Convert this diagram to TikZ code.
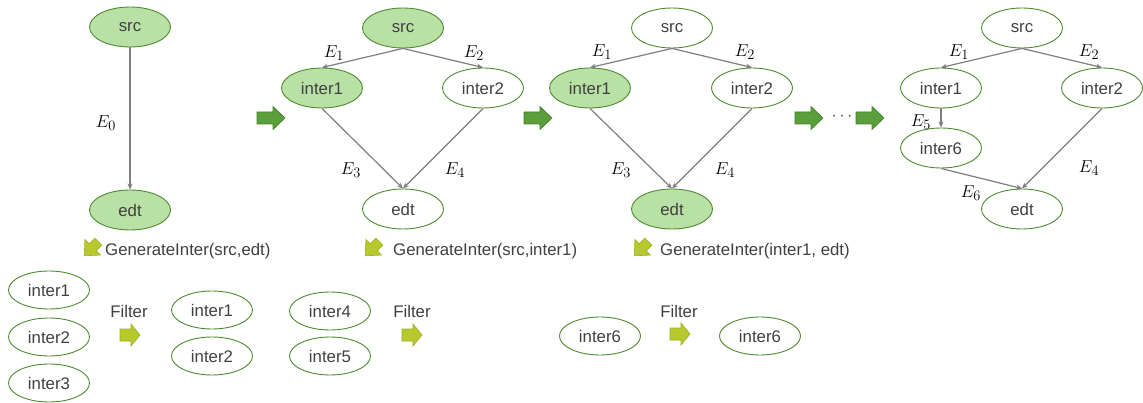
\documentclass[tikz,border=0pt]{standalone}
\usepackage{fontspec}
\setmainfont{Liberation Sans}
\usetikzlibrary{shapes.geometric,arrows.meta}
\definecolor{nodefill}{HTML}{B9E0A5}
\definecolor{nodeline}{HTML}{4E8A2E}
\definecolor{edgegray}{HTML}{7F7F7F}
\definecolor{txt}{HTML}{404040}
\definecolor{bigfill}{HTML}{5B9E3C}
\definecolor{bigline}{HTML}{3F7F2A}
\definecolor{smallfill}{HTML}{B8C92E}
\definecolor{smallline}{HTML}{9AAF1F}
\tikzset{
  every node/.style={text=txt, font=\fontsize{16.8}{20}\selectfont},
  ell/.style={ellipse, draw=nodeline, line width=0.9pt, minimum width=81pt, minimum height=40pt, inner sep=0pt},
  ellb/.style={ell, minimum height=38pt},
  filled/.style={fill=nodefill},
  edge/.style={draw=edgegray, line width=1.2pt, -{Stealth[length=6pt,width=5pt]}},
  elab/.style={text=black, font=\fontsize{19}{22}\selectfont},
  bigarr/.pic={\draw[fill=bigfill, draw=bigline, line width=0.6pt] (-14,-6) -- (2,-6) -- (2,-11.5) -- (14,0) -- (2,11.5) -- (2,6) -- (-14,6) -- cycle;},
  filtarr/.pic={\draw[fill=smallfill, draw=smallline, line width=0.6pt] (-10,-6) -- (1,-6) -- (1,-11) -- (10,0) -- (1,11) -- (1,6) -- (-10,6) -- cycle;},
  genarr/.pic={\draw[fill=smallfill, draw=smallline, line width=0.6pt, rotate=225] (-9,-5) -- (-1,-5) -- (-1,-11) -- (11,0) -- (-1,11) -- (-1,5) -- (-9,5) -- cycle;},
}
\begin{document}
\begin{tikzpicture}[x=1pt, y=-1pt]
\useasboundingbox (0,0) rectangle (1143,403);
% Graph 1
\node[ell, filled] (s1) at (130,27) {src};
\node[ell, filled] (e1) at (130,210) {edt};
\draw[edge] (s1.south) -- (e1.north);
\node[elab] (l0) at (106,123) {$E_0$};
% big arrows
\pic at (271,118) {bigarr};
\pic at (538,118) {bigarr};
\pic at (809,118) {bigarr};
\node (dots) at (842,117) {$\cdots$};
\pic at (870,118) {bigarr};
% Graph 2
\node[ell, filled] (s2) at (403,28) {src};
\node[ell, filled] (a2) at (322,88) {inter1};
\node[ell] (b2) at (483,88) {inter2};
\node[ell] (e2) at (403,209) {edt};
\draw[edge] (s2.south) -- (a2.north);
\draw[edge] (s2.south) -- (b2.north);
\draw[edge] (a2.south) -- (e2.north);
\draw[edge] (b2.south) -- (e2.north);
\node[elab] at (334,53) {$E_1$};
\node[elab] at (474,53) {$E_2$};
\node[elab] at (351,170) {$E_3$};
\node[elab] at (455,170) {$E_4$};
% Graph 3
\node[ell] (s3) at (672,28) {src};
\node[ell, filled] (a3) at (590,88) {inter1};
\node[ell] (b3) at (752,88) {inter2};
\node[ell, filled] (e3) at (672,209) {edt};
\draw[edge] (s3.south) -- (a3.north);
\draw[edge] (s3.south) -- (b3.north);
\draw[edge] (a3.south) -- (e3.north);
\draw[edge] (b3.south) -- (e3.north);
\node[elab] at (602,52) {$E_1$};
\node[elab] at (745,52) {$E_2$};
\node[elab] at (621,170) {$E_3$};
\node[elab] at (725,170) {$E_4$};
% Graph 4
\node[ell] (s4) at (1022,28) {src};
\node[ell] (a4) at (941,88) {inter1};
\node[ell] (b4) at (1102,88) {inter2};
\node[ell] (c4) at (941,148) {inter6};
\node[ell] (e4) at (1022,209) {edt};
\draw[edge] (s4.south) -- (a4.north);
\draw[edge] (s4.south) -- (b4.north);
\draw[edge] (a4.south) -- (c4.north);
\draw[edge] (c4.south) -- (e4.north);
\draw[edge] (b4.south) -- (e4.north);
\node[elab] at (959,52) {$E_1$};
\node[elab] at (1089,52) {$E_2$};
\node[elab] at (921,122) {$E_5$};
\node[elab] at (1089,168) {$E_4$};
\node[elab] at (971,193) {$E_6$};
% GenerateInter lines
\pic at (92,248) {genarr};
\node[anchor=west, inner sep=0pt] (g1) at (105,251) {GenerateInter(src,edt)};
\pic at (373,248) {genarr};
\node[anchor=west, inner sep=0pt] (g2) at (393,251) {GenerateInter(src,inter1)};
\pic at (642,248) {genarr};
\node[anchor=west, inner sep=0pt] (g3) at (660,251) {GenerateInter(inter1, edt)};
% bottom row
\node[ellb] (p1) at (49,290) {inter1};
\node[ellb] (p2) at (49,337) {inter2};
\node[ellb] (p3) at (49,383) {inter3};
\node (f1) at (129,311) {Filter};
\pic at (130,335) {filtarr};
\node[ellb] (q1) at (212,310) {inter1};
\node[ellb] (q2) at (212,356) {inter2};
\node[ellb] (r4) at (330,311) {inter4};
\node[ellb] (r5) at (330,356) {inter5};
\node (f2) at (412,311) {Filter};
\pic at (412,335) {filtarr};
\node[ellb] (t6) at (600,336) {inter6};
\node (f3) at (679,311) {Filter};
\pic at (680,334) {filtarr};
\node[ellb] (u6) at (760,336) {inter6};
\end{tikzpicture}
\end{document}
